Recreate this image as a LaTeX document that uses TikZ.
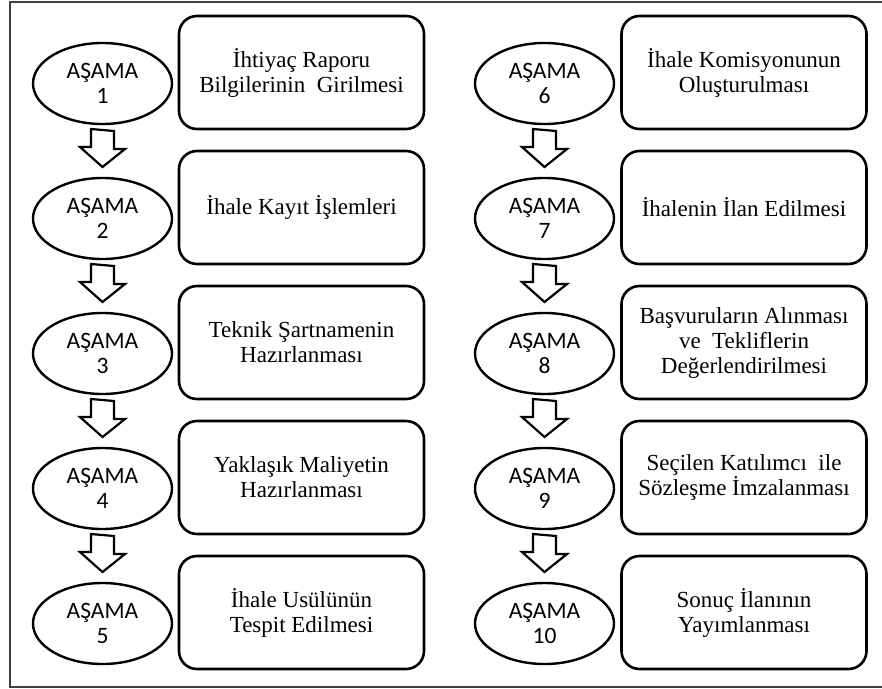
\documentclass[tikz,border=0pt]{standalone}
\usepackage{fontspec}
\setmainfont{Liberation Serif}
\newfontfamily\stagefont{Carlito}
\usetikzlibrary{shapes.geometric}

\tikzset{
  stage/.style={ellipse, draw, line width=2.4pt, minimum width=139pt, minimum height=81pt,
    inner sep=0pt, outer sep=0pt, align=center, font=\stagefont\fontsize{23.5}{25}\selectfont},
  task/.style={draw, rounded corners=18pt, line width=2.6pt, minimum width=245pt,
    minimum height=113pt, inner sep=0pt, align=center, font=\fontsize{23}{25}\selectfont},
  blockarrow/.style={draw, fill=white, line width=2.2pt, line join=miter}
}

% hollow down arrow from one stage to the next
\newcommand{\stagearrow}[2]{%
  \draw[blockarrow] ([xshift=-11.5pt,yshift=-5pt]#1.south) -- ++(0,18) -- ++(-11,0)
    -- ([yshift=11pt]#2.north) -- ++(22.5,-18) -- ++(-11,0) -- ++(0,-18) -- cycle;}

\begin{document}
\begin{tikzpicture}[x=1pt, y=-1pt]
  \useasboundingbox (0,0) rectangle (882,688);
  \draw[line width=2pt, black!75] (882,2) -- (10,2) -- (10,687) -- (882,687);

  % left column
  \node[stage] (s1) at (102.5,83.5) {AŞAMA\\1};
  \node[stage] (s2) at (102.5,218.5) {AŞAMA\\2};
  \node[stage] (s3) at (102.5,353.5) {AŞAMA\\3};
  \node[stage] (s4) at (102.5,488.5) {AŞAMA\\4};
  \node[stage] (s5) at (102.5,623.5) {AŞAMA\\5};
  \node[task] (t1) at (301.5,72.5) {İhtiyaç Raporu\\Bilgilerinin\ \ Girilmesi};
  \node[task] (t2) at (301.5,207.5) {İhale Kayıt İşlemleri};
  \node[task] (t3) at (301.5,342.5) {Teknik Şartnamenin\\Hazırlanması};
  \node[task] (t4) at (301.5,477.5) {Yaklaşık Maliyetin\\Hazırlanması};
  \node[task] (t5) at (301.5,612.5) {İhale Usülünün\\Tespit Edilmesi};

  % right column
  \node[stage] (s6) at (544.5,83.5) {AŞAMA\\6};
  \node[stage] (s7) at (544.5,218.5) {AŞAMA\\7};
  \node[stage] (s8) at (544.5,353.5) {AŞAMA\\8};
  \node[stage] (s9) at (544.5,488.5) {AŞAMA\\9};
  \node[stage] (s10) at (544.5,623.5) {AŞAMA\\10};
  \node[task] (t6) at (744,72.5) {İhale Komisyonunun\\Oluşturulması};
  \node[task] (t7) at (744,207.5) {İhalenin İlan Edilmesi};
  \node[task] (t8) at (744,342.5) {Başvuruların Alınması\\ve\ \ Tekliflerin\\Değerlendirilmesi};
  \node[task] (t9) at (744,477.5) {Seçilen Katılımcı\ \ ile\\Sözleşme İmzalanması};
  \node[task] (t10) at (744,612.5) {Sonuç İlanının\\Yayımlanması};

  \foreach \a/\b in {s1/s2, s2/s3, s3/s4, s4/s5, s6/s7, s7/s8, s8/s9, s9/s10}
    \stagearrow{\a}{\b};
\end{tikzpicture}
\end{document}
